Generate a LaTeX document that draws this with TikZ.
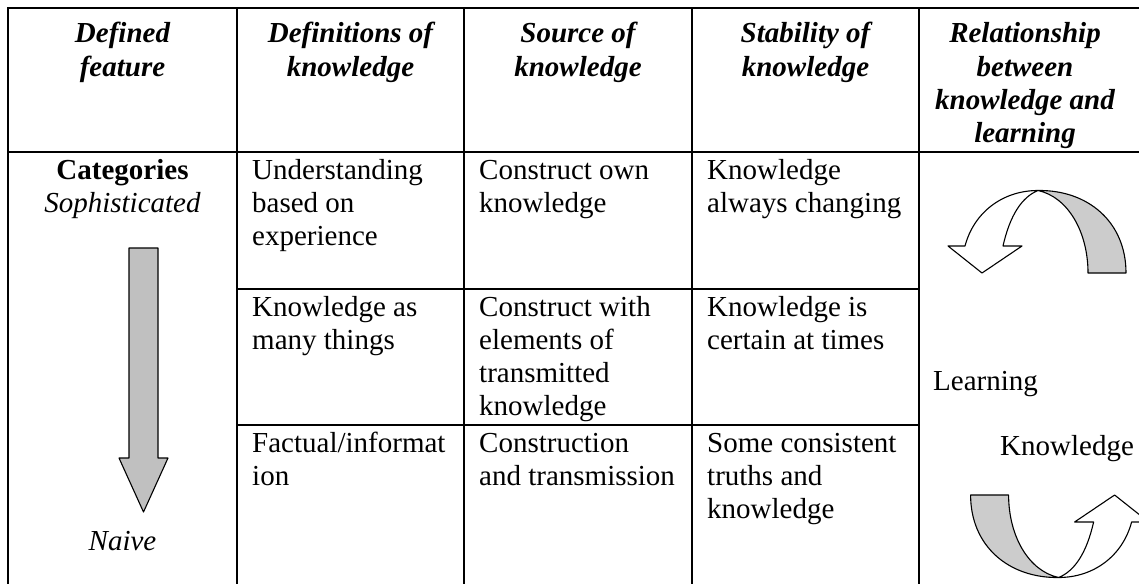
\documentclass[tikz,border=0pt]{standalone}
\usepackage{fontspec}
\setmainfont{Liberation Serif}
\definecolor{arrowgray}{HTML}{C0C0C0}
\definecolor{bandgray}{HTML}{CCCCCC}
\newcommand\cellsize{\fontsize{29pt}{33.3pt}\selectfont}
\newcommand\celltext[1]{\parbox[t]{215pt}{\raggedright #1}}
\newcommand\headtext[1]{\parbox[t]{215pt}{\centering\bfseries\itshape #1}}
\tikzset{
  rule/.style={line width=2pt, line cap=rect},
  cell/.style={anchor=base west, inner sep=0pt, font=\cellsize},
  head/.style={anchor=base, inner sep=0pt, font=\cellsize},
  mid/.style={anchor=base, inner sep=0pt, font=\cellsize},
  shapeline/.style={draw=black, line width=1.1pt, line join=round},
}
\begin{document}
\begin{tikzpicture}[x=1pt,y=-1pt]
\useasboundingbox (0,0) rectangle (1139,583);
\clip (0,0) rectangle (1139,583);
\fill[white] (0,0) rectangle (1139,583);

% table rules
\draw[rule] (8,8) -- (1150,8);
\draw[rule] (8,152) -- (1150,152);
\draw[rule] (237,289) -- (919,289);
\draw[rule] (237,425) -- (919,425);
\foreach \x in {8,237,464,692,919} \draw[rule] (\x,8) -- (\x,600);

% header
\node[head] (h1) at (122.5,43) {\headtext{Defined\\feature}};
\node[head] (h2) at (350.5,43) {\headtext{Definitions of\\knowledge}};
\node[head] (h3) at (578,43) {\headtext{Source of\\knowledge}};
\node[head] (h4) at (805.5,43) {\headtext{Stability of\\knowledge}};
\node[head] (h5) at (1025,43) {\headtext{Relationship\\between\\knowledge and\\learning}};

% left column
\node[mid] (cat) at (122.5,179) {\textbf{Categories}};
\node[mid] (soph) at (122.5,212) {\textit{Sophisticated}};
\node[mid] (naive) at (122.5,550) {\textit{Naive}};
\draw[shapeline, fill=arrowgray] (129,248) -- (158,248) -- (158,458) -- (168,458)
  -- (143.5,512) -- (119,458) -- (129,458) -- cycle;

% body cells
\node[cell] (r1c2) at (252,179) {\celltext{Understanding\\based on\\experience}};
\node[cell] (r1c3) at (479,179) {\celltext{Construct own\\knowledge}};
\node[cell] (r1c4) at (707,179) {\celltext{Knowledge\\always changing}};
\node[cell] (r2c2) at (252,316) {\celltext{Knowledge as\\many things}};
\node[cell] (r2c3) at (479,316) {\celltext{Construct with\\elements of\\transmitted\\knowledge}};
\node[cell] (r2c4) at (707,316) {\celltext{Knowledge is\\certain at times}};
\node[cell] (r3c2) at (252,452) {\celltext{Factual/informat\\ion}};
\node[cell] (r3c3) at (479,452) {\celltext{Construction\\and transmission}};
\node[cell] (r3c4) at (707,452) {\celltext{Some consistent\\truths and\\knowledge}};

% right column
\node[cell] (learn) at (933,390) {Learning};
\node[cell] (know) at (1000,455) {Knowledge};

% curved arrows
\newcommand\curvedarrow{%
  \draw[shapeline, fill=bandgray] (1038,190.5) .. controls (1088,189.8) and (1126,222) .. (1126,273)
    -- (1088,273) .. controls (1088,232) and (1068,197) .. (1038,190.5) -- cycle;
  \draw[shapeline, fill=white] (1003,246) -- (1022,246) -- (982,273) -- (948,246) -- (965,246)
    .. controls (974,212) and (1003,190.5) .. (1038,190.5)
    .. controls (1022,197) and (1010,215) .. (1003,246) -- cycle;
}
\curvedarrow
\begin{scope}[rotate around={180:(1048.3,384)}]
\curvedarrow
\end{scope}
\end{tikzpicture}
\end{document}
